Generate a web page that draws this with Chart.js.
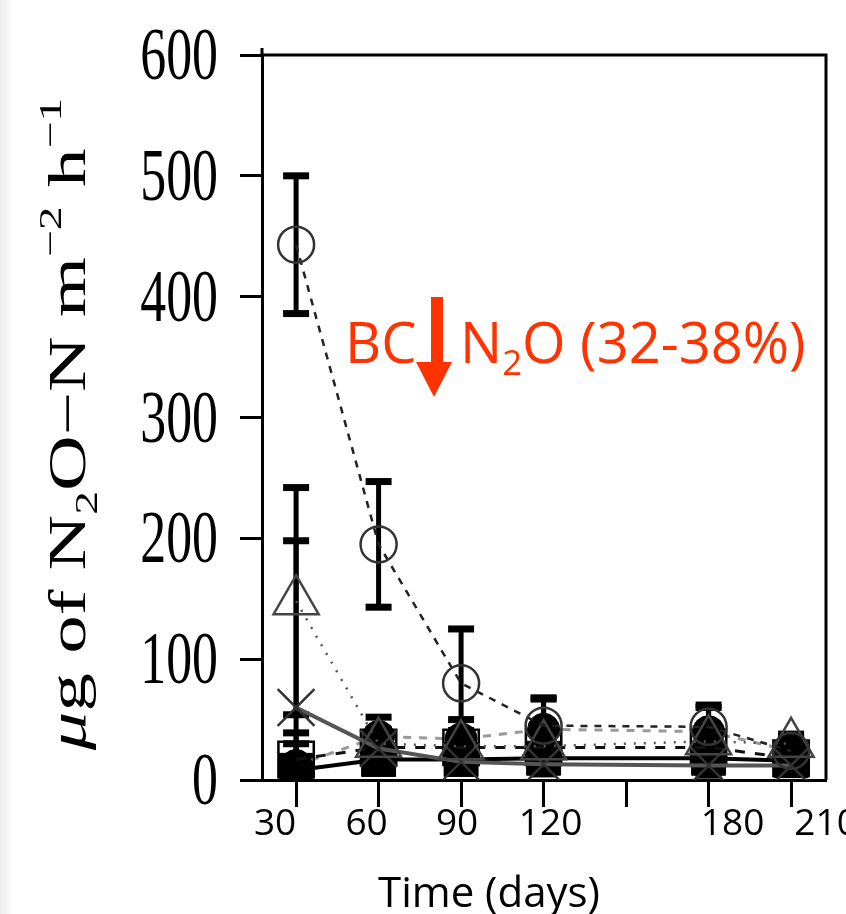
<!DOCTYPE html>
<html lang="en">
<head>
<meta charset="UTF-8">
<title>N2O flux over time</title>
<script src="https://cdn.jsdelivr.net/npm/chart.js"></script>
<style>
  html, body { margin: 0; padding: 0; background: #fff; }
  #wrap { width: 846px; height: 914px; }
</style>
</head>
<body>
<div id="wrap"><canvas id="chartN2O" width="846" height="914"></canvas></div>
<script>
// sampling days
const days = [30, 60, 90, 120, 180, 210];

// treatment means, ug N2O-N m-2 h-1
const circleMean   = [443, 195, 80, 45, 44, 24];
const triangleMean = [148, 30, 28, 28, 32, 30];
const crossMean    = [60, 26, 15, 13, 12, 12];
const squareMean   = [17, 27, 27, 27, 27, 18];
const dotMean      = [12, 36, 34, 42, 40, 24];
const blockMean    = [8, 17, 17, 18, 18, 16];

// error bar half lengths
const circleErr   = [57, 52, 45, 22, 16, 8];
const triangleErr = [94, 12, 10, 12, 10, 6];
const crossErr    = [138, 10, 8, 8, 8, 6];
const squareErr   = [22, 14, 14, 14, 14, 8];
const dotErr      = [18, 16, 16, 26, 22, 14];
const blockErr    = [8, 10, 10, 10, 10, 8];

// axes
const yTicks = [0, 100, 200, 300, 400, 500, 600];
const xTicks = [30, 60, 90, 120, 150, 180, 210];
const xTickLabels = ['30', '60', '90', '120', '', '180', '210'];

// label nudges (px) - labels in the figure are not centred on their ticks
const xLabelNudge = [-21, -12, -4, 7, 0, 24, 35];

const RED = '#ff3300';

function pts(vals) {
    return days.map((d, i) => ({ x: d, y: vals[i] }));
}

const errors = [circleErr, triangleErr, crossErr, squareErr, dotErr, blockErr];

// error bars go under the markers
const errorBars = {
    id: 'errorBars',
    beforeDatasetsDraw(chart) {
        const ctx = chart.ctx;
        const ys = chart.scales.y;
        const a = chart.chartArea;
        ctx.save();
        ctx.beginPath();
        ctx.rect(a.left, a.top - 10, a.right - a.left, a.bottom - a.top + 10);
        ctx.clip();
        ctx.fillStyle = '#000';
        chart.data.datasets.forEach((ds, i) => {
            const meta = chart.getDatasetMeta(i);
            const err = errors[i];
            meta.data.forEach((p, j) => {
                const v = ds.data[j].y;
                const top = ys.getPixelForValue(v + err[j]);
                const bot = ys.getPixelForValue(Math.max(0, v - err[j]));
                ctx.fillRect(p.x - 2.5, top, 5, bot - top);
                ctx.fillRect(p.x - 13, top - 3.5, 26, 7);
                if (v - err[j] > 0) ctx.fillRect(p.x - 13, bot - 3.5, 26, 7);
            });
        });
        ctx.restore();
    }
};

// draw text pieces with sub/superscripts along a baseline
function richText(ctx, parts, x, y, size, family) {
    let cx = x;
    parts.forEach(p => {
        let s = size, dy = 0;
        if (p.m === 'sub') { s = size * 0.62; dy = size * 0.22; }
        if (p.m === 'sup') { s = size * 0.62; dy = -size * 0.45; }
        ctx.font = (p.it ? 'italic ' : '') + s + 'px ' + family;
        ctx.fillText(p.t, cx, y + dy);
        cx += ctx.measureText(p.t).width;
    });
    return cx - x;
}
function richWidth(ctx, parts, size, family) {
    let w = 0;
    parts.forEach(p => {
        const s = (p.m ? size * 0.62 : size);
        ctx.font = (p.it ? 'italic ' : '') + s + 'px ' + family;
        w += ctx.measureText(p.t).width;
    });
    return w;
}

const decorations = {
    id: 'decorations',
    beforeDraw(chart) {
        const ctx = chart.ctx;
        ctx.save();
        ctx.fillStyle = '#fff';
        ctx.fillRect(0, 0, chart.width, chart.height);
        const g = ctx.createLinearGradient(0, 0, 14, 0);
        g.addColorStop(0, '#ececec');
        g.addColorStop(1, '#ffffff');
        ctx.fillStyle = g;
        ctx.fillRect(0, 0, 14, chart.height);
        ctx.restore();
    },
    afterDraw(chart) {
        const ctx = chart.ctx;
        const a = chart.chartArea;
        const xs = chart.scales.x, ys = chart.scales.y;
        ctx.save();

        // frame: top and right sides, axis stub above the top
        ctx.strokeStyle = '#000';
        ctx.lineWidth = 3;
        ctx.beginPath();
        ctx.moveTo(a.left, a.top - 7);
        ctx.lineTo(a.left, a.top);
        ctx.lineTo(a.right, a.top);
        ctx.lineTo(a.right, a.bottom);
        ctx.stroke();

        // y tick labels, serif, squeezed horizontally like the source
        ctx.fillStyle = '#000';
        ctx.textAlign = 'right';
        ctx.textBaseline = 'alphabetic';
        ctx.font = '74px "Liberation Serif", "Times New Roman", serif';
        yTicks.forEach(v => {
            const py = ys.getPixelForValue(v);
            ctx.save();
            ctx.translate(218, py + 24);
            ctx.scale(0.7, 1);
            ctx.fillText(String(v), 0, 0);
            ctx.restore();
        });

        // y title
        const fam = '"Liberation Serif", "Times New Roman", serif';
        const title = [
            { t: 'μ', it: true }, { t: 'g of N' }, { t: '2', m: 'sub' },
            { t: 'O−N m' }, { t: '−2', m: 'sup' }, { t: ' h' }, { t: '−1', m: 'sup' }
        ];
        const tsz = 77;
        const tw = richWidth(ctx, title, tsz, fam);
        ctx.save();
        ctx.translate(85, 424);
        ctx.rotate(-Math.PI / 2);
        ctx.scale(1, 0.68);
        ctx.textAlign = 'left';
        richText(ctx, title, -tw / 2, 0, tsz, fam);
        ctx.restore();

        // x tick labels
        ctx.textAlign = 'center';
        ctx.font = '37px "Open Sans", "Liberation Sans", sans-serif';
        xTicks.forEach((v, i) => {
            if (!xTickLabels[i]) return;
            ctx.fillText(xTickLabels[i], xs.getPixelForValue(v) + xLabelNudge[i], 835);
        });

        // x title
        ctx.font = '42px "Open Sans", "Liberation Sans", sans-serif';
        ctx.fillText('Time (days)', 489, 907);

        // annotation
        ctx.fillStyle = RED;
        ctx.textAlign = 'left';
        const sfam = '"Open Sans", "Liberation Sans", sans-serif';
        ctx.font = '56px ' + sfam;
        ctx.fillText('BC', 345, 363);
        ctx.fillRect(431, 297, 12, 66);
        ctx.beginPath();
        ctx.moveTo(416, 362);
        ctx.lineTo(452, 362);
        ctx.lineTo(434, 397);
        ctx.closePath();
        ctx.fill();
        richText(ctx, [{ t: 'N' }, { t: '2', m: 'sub' }, { t: 'O (32-38%)' }], 460, 363, 56, sfam);

        ctx.restore();
    }
};

const ctx = document.getElementById('chartN2O').getContext('2d');
new Chart(ctx, {
    type: 'line',
    data: {
        datasets: [
            {
                label: 'circle', data: pts(circleMean), order: 0,
                borderColor: '#222', borderWidth: 2.5, borderDash: [7, 7],
                pointStyle: 'circle', pointRadius: 18, pointBorderWidth: 2.5,
                pointBorderColor: '#333', pointBackgroundColor: 'rgba(0,0,0,0)'
            },
            {
                label: 'triangle', data: pts(triangleMean), order: 1,
                borderColor: '#555', borderWidth: 2.5, borderDash: [2, 8],
                pointStyle: 'triangle', pointRadius: 26, pointBorderWidth: 2.5,
                pointBorderColor: '#444', pointBackgroundColor: 'rgba(0,0,0,0)'
            },
            {
                label: 'cross', data: pts(crossMean), order: 2,
                borderColor: '#555', borderWidth: 4,
                pointStyle: 'crossRot', pointRadius: 26, pointBorderWidth: 2.5,
                pointBorderColor: '#333'
            },
            {
                label: 'square', data: pts(squareMean), order: 3,
                borderColor: '#111', borderWidth: 3, borderDash: [10, 10],
                pointStyle: 'rect', pointRadius: 25, pointBorderWidth: 2.5,
                pointBorderColor: '#000', pointBackgroundColor: 'rgba(0,0,0,0)'
            },
            {
                label: 'dot', data: pts(dotMean), order: 4,
                borderColor: '#999', borderWidth: 3, borderDash: [8, 8],
                pointStyle: 'circle', pointRadius: 16, pointBorderWidth: 1,
                pointBorderColor: '#000', pointBackgroundColor: '#000'
            },
            {
                label: 'block', data: pts(blockMean), order: 5,
                borderColor: '#000', borderWidth: 4,
                pointStyle: 'rect', pointRadius: 24, pointBorderWidth: 1,
                pointBorderColor: '#000', pointBackgroundColor: '#000'
            }
        ]
    },
    options: {
        responsive: false,
        animation: false,
        events: [],
        layout: { autoPadding: false, padding: { left: 0, top: 55, right: 20, bottom: 0 } },
        plugins: { legend: { display: false }, tooltip: { enabled: false } },
        elements: { line: { tension: 0, fill: false } },
        scales: {
            x: {
                type: 'linear', min: 17.6, max: 222.7,
                afterBuildTicks: s => { s.ticks = xTicks.map(v => ({ value: v })); },
                afterFit: s => { s.height = 134; s.paddingLeft = 0; s.paddingRight = 0; },
                ticks: { display: false },
                grid: { drawOnChartArea: false, drawTicks: true, tickLength: 27, tickWidth: 3, tickColor: '#000' },
                border: { display: true, color: '#000', width: 3 }
            },
            y: {
                min: 0, max: 600,
                afterBuildTicks: s => { s.ticks = yTicks.map(v => ({ value: v })); },
                afterFit: s => { s.width = 262; s.paddingTop = 0; s.paddingBottom = 0; },
                ticks: { display: false },
                grid: { drawOnChartArea: false, drawTicks: true, tickLength: 22, tickWidth: 3, tickColor: '#000' },
                border: { display: true, color: '#000', width: 3 }
            }
        }
    },
    plugins: [errorBars, decorations]
});
</script>
</body>
</html>
